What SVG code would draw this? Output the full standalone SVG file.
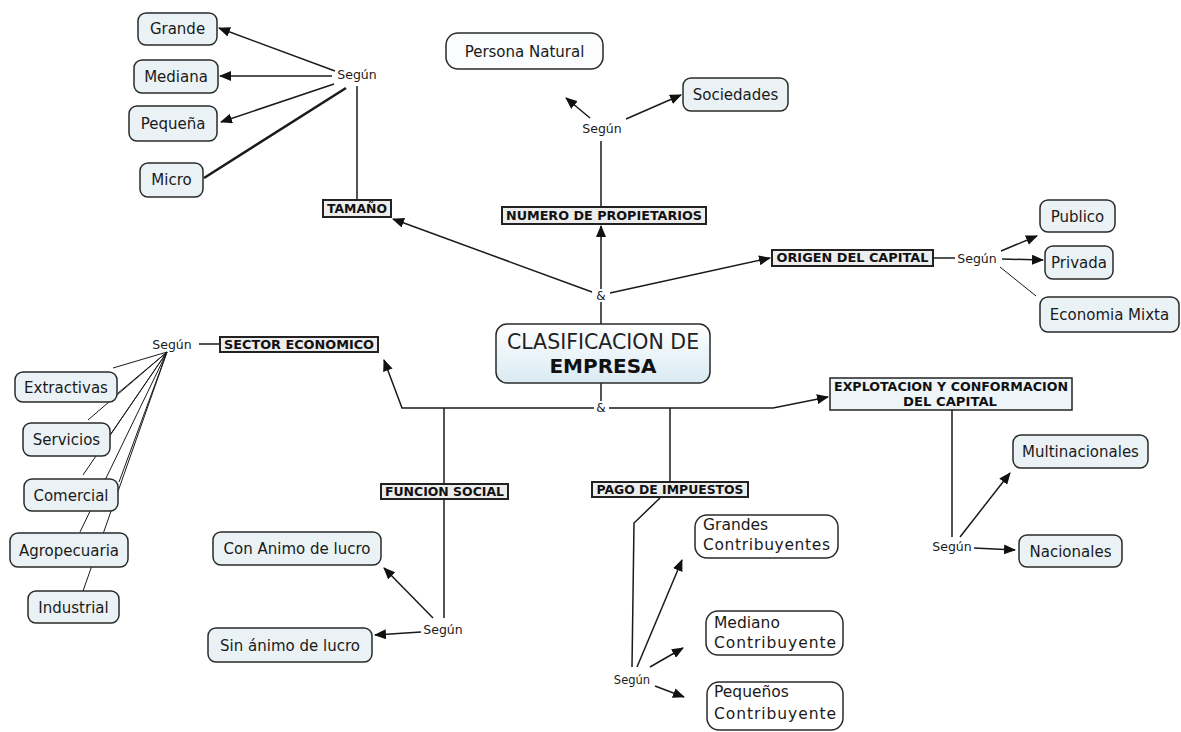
<svg xmlns="http://www.w3.org/2000/svg" width="1181" height="732" viewBox="0 0 1181 732">
  <defs>
    <marker id="arr" viewBox="0 0 12 10" refX="11" refY="5" markerWidth="12" markerHeight="10" markerUnits="userSpaceOnUse" orient="auto">
      <path d="M0,0 L12,5 L0,10 z" fill="#111"/>
    </marker>
    <linearGradient id="centerFill" x1="0" y1="0" x2="0" y2="1">
      <stop offset="0" stop-color="#ffffff"/>
      <stop offset="1" stop-color="#d9eaf3"/>
    </linearGradient>
    <style>
      .node rect { fill: #eaf2f6; stroke: #2a2a2a; stroke-width: 1.5; }
      .node text { font-family: "DejaVu Sans", Verdana, sans-serif; font-size: 15px; fill: #1a1a1a; text-anchor: middle; }
      .node text.left { text-anchor: start; font-size: 15.5px; }
      .label rect { fill: #ededed; stroke: #222; stroke-width: 2; }
      .label text { font-family: "DejaVu Sans", Verdana, sans-serif; font-size: 11.5px; font-weight: bold; fill: #111; text-anchor: middle; }
      .phrase { font-family: "DejaVu Sans", Verdana, sans-serif; font-size: 12.5px; fill: #1a1a1a; text-anchor: middle; }
      .conn path { fill: none; stroke: #1a1a1a; stroke-width: 1.5; }
      .conn path.arrow { marker-end: url(#arr); }
      .conn path.thin { stroke-width: 1; }
      .conn path.thick { stroke-width: 2.5; }
    </style>
  </defs>

  <rect width="1181" height="732" fill="#ffffff"/>

  <!-- connectors -->
  <g id="connectors" class="conn">
    <!-- Tamaño -->
    <path class="arrow" d="M335,71 L219,28"/>
    <path class="arrow" d="M332,76 L220,76"/>
    <path class="arrow" d="M334,84 L221,122"/>
    <path class="thick" d="M346,88 L204,178"/>
    <path d="M357,86 L357,200"/>
    <path class="arrow" d="M592,292 L393,219"/>
    <!-- Numero de propietarios -->
    <path class="arrow" d="M601,289 L601,226"/>
    <path d="M601,207 L601,141"/>
    <path class="arrow" d="M590,118 L566,98"/>
    <path class="arrow" d="M626,119 L681,95"/>
    <!-- Origen del capital -->
    <path class="arrow" d="M610,293 L770,258"/>
    <path d="M933,258 L955,258"/>
    <path class="arrow" d="M1001,251 L1037,236"/>
    <path class="arrow" d="M1002,259 L1043,260"/>
    <path class="thin" d="M1000,267 L1036,296"/>
    <!-- central stem -->
    <path d="M601,302 L601,324"/>
    <path d="M601,383 L601,401"/>
    <!-- lower branches -->
    <path class="arrow" d="M594,408 L402,408 L384,360"/>
    <path class="arrow" d="M609,408 L773,408 L828,397"/>
    <!-- Sector economico -->
    <path d="M220,344 L199,344"/>
    <path class="thin" d="M167,352 L113,368"/>
    <path class="thin" d="M167,352 L118,393"/>
    <path class="thin" d="M167,352 L88,420"/>
    <path class="thin" d="M167,352 L110,435"/>
    <path class="thin" d="M167,352 L83,475"/>
    <path class="thin" d="M167,352 L119,482"/>
    <path class="thin" d="M167,352 L80,532"/>
    <path class="thin" d="M167,352 L83,591"/>
    <!-- Funcion social -->
    <path d="M444,408 L444,484"/>
    <path d="M444,499 L444,618"/>
    <path class="arrow" d="M433,618 L384,568"/>
    <path class="arrow" d="M421,632 L375,635"/>
    <!-- Pago de impuestos -->
    <path d="M670,408 L670,482"/>
    <path d="M660,498 L634,523 L632,667"/>
    <path class="arrow" d="M637,667 L682,560"/>
    <path class="arrow" d="M650,667 L683,648"/>
    <path class="arrow" d="M655,686 L684,697"/>
    <!-- Explotacion y conformacion del capital -->
    <path d="M952,410 L952,537"/>
    <path class="arrow" d="M960,537 L1010,473"/>
    <path class="arrow" d="M974,548 L1015,550"/>
  </g>

  <!-- linking phrases -->
  <g id="phrases">
    <text class="phrase" x="357" y="79">Según</text>
    <text class="phrase" x="602" y="133">Según</text>
    <text class="phrase" x="977" y="263">Según</text>
    <text class="phrase" x="172" y="349">Según</text>
    <text class="phrase" x="443" y="634">Según</text>
    <text class="phrase" x="632" y="684" style="font-size:11.5px">Según</text>
    <text class="phrase" x="952" y="551">Según</text>
    <text class="phrase" x="601" y="300" style="font-size:12px">&amp;</text>
    <text class="phrase" x="601" y="412" style="font-size:12px">&amp;</text>
  </g>

  <!-- central concept -->
  <g id="clasificacion">
    <rect x="496" y="324" width="214" height="59" rx="11" fill="url(#centerFill)" stroke="#2a2a2a" stroke-width="1.5"/>
    <text x="603" y="349" font-family="DejaVu Sans, Verdana, sans-serif" font-size="20.5" fill="#222" text-anchor="middle">CLASIFICACION DE</text>
    <text x="603" y="373" font-family="DejaVu Sans, Verdana, sans-serif" font-size="20" font-weight="bold" fill="#111" text-anchor="middle">EMPRESA</text>
  </g>

  <!-- criteria labels -->
  <g id="tamano" class="label">
    <rect x="323" y="200" width="68" height="17"/>
    <text x="357" y="213" textLength="60" lengthAdjust="spacingAndGlyphs">TAMAÑO</text>
  </g>
  <g id="numero-propietarios" class="label">
    <rect x="502" y="207" width="204" height="17"/>
    <text x="604" y="220" textLength="196" lengthAdjust="spacingAndGlyphs">NUMERO DE PROPIETARIOS</text>
  </g>
  <g id="origen-capital" class="label">
    <rect x="772" y="250" width="161" height="16"/>
    <text x="852.5" y="262" textLength="152" lengthAdjust="spacingAndGlyphs">ORIGEN DEL CAPITAL</text>
  </g>
  <g id="sector-economico" class="label">
    <rect x="220" y="337" width="158" height="15"/>
    <text x="299" y="349" textLength="150" lengthAdjust="spacingAndGlyphs">SECTOR ECONOMICO</text>
  </g>
  <g id="funcion-social" class="label">
    <rect x="381" y="484" width="127" height="15"/>
    <text x="444.5" y="496" textLength="119" lengthAdjust="spacingAndGlyphs">FUNCION SOCIAL</text>
  </g>
  <g id="pago-impuestos" class="label">
    <rect x="592" y="482" width="156" height="15"/>
    <text x="670" y="494" textLength="147" lengthAdjust="spacingAndGlyphs">PAGO DE IMPUESTOS</text>
  </g>
  <g id="explotacion" class="label">
    <rect x="830" y="378" width="242" height="32" style="fill:#eef5f9;stroke-width:1.5"/>
    <text x="951" y="391" textLength="234" lengthAdjust="spacingAndGlyphs">EXPLOTACION Y CONFORMACION</text>
    <text x="950" y="406" textLength="94" lengthAdjust="spacingAndGlyphs">DEL CAPITAL</text>
  </g>

  <!-- Tamaño nodes -->
  <g id="grande" class="node"><rect x="138" y="13" width="79" height="32" rx="8"/><text x="177.5" y="34">Grande</text></g>
  <g id="mediana" class="node"><rect x="134" y="60" width="84" height="33" rx="8"/><text x="176" y="81.5">Mediana</text></g>
  <g id="pequena" class="node"><rect x="129" y="106" width="88" height="35" rx="8"/><text x="173" y="128.5">Pequeña</text></g>
  <g id="micro" class="node"><rect x="140" y="163" width="63" height="34" rx="8"/><text x="171.5" y="185">Micro</text></g>

  <!-- Numero de propietarios nodes -->
  <g id="persona-natural" class="node"><rect x="446" y="33" width="157" height="36" rx="12" style="fill:#fbfcfd"/><text x="524.5" y="56.5">Persona Natural</text></g>
  <g id="sociedades" class="node"><rect x="683" y="78" width="105" height="33" rx="8"/><text x="735.5" y="100">Sociedades</text></g>

  <!-- Origen del capital nodes -->
  <g id="publico" class="node"><rect x="1040" y="200" width="75" height="32" rx="8"/><text x="1077.5" y="221.5">Publico</text></g>
  <g id="privada" class="node"><rect x="1045" y="246" width="68" height="33" rx="8"/><text x="1079" y="268">Privada</text></g>
  <g id="economia-mixta" class="node"><rect x="1040" y="297" width="139" height="35" rx="8"/><text x="1109.5" y="320">Economia Mixta</text></g>

  <!-- Sector economico nodes -->
  <g id="extractivas" class="node"><rect x="15" y="372" width="102" height="30" rx="8"/><text x="66" y="392.5">Extractivas</text></g>
  <g id="servicios" class="node"><rect x="23" y="423" width="87" height="33" rx="8"/><text x="66.5" y="445">Servicios</text></g>
  <g id="comercial" class="node"><rect x="24" y="479" width="94" height="32" rx="8"/><text x="71" y="500.5">Comercial</text></g>
  <g id="agropecuaria" class="node"><rect x="10" y="533" width="118" height="34" rx="8"/><text x="69" y="555.5">Agropecuaria</text></g>
  <g id="industrial" class="node"><rect x="28" y="591" width="91" height="32" rx="8"/><text x="73.5" y="612.5">Industrial</text></g>

  <!-- Funcion social nodes -->
  <g id="con-animo" class="node"><rect x="213" y="532" width="168" height="33" rx="8"/><text x="297" y="554">Con Animo de lucro</text></g>
  <g id="sin-animo" class="node"><rect x="208" y="628" width="164" height="34" rx="8"/><text x="290" y="650.5">Sin ánimo de lucro</text></g>

  <!-- Pago de impuestos nodes -->
  <g id="grandes-contribuyentes" class="node">
    <rect x="695" y="515" width="143" height="43" rx="12" style="fill:#ffffff"/>
    <text class="left" x="703" y="530">Grandes</text>
    <text class="left" x="703" y="550" textLength="127" lengthAdjust="spacing">Contribuyentes</text>
  </g>
  <g id="mediano-contribuyente" class="node">
    <rect x="706" y="611" width="137" height="44" rx="12" style="fill:#ffffff"/>
    <text class="left" x="714" y="628">Mediano</text>
    <text class="left" x="714" y="648" textLength="122" lengthAdjust="spacing">Contribuyente</text>
  </g>
  <g id="pequenos-contribuyente" class="node">
    <rect x="707" y="682" width="136" height="48" rx="12" style="fill:#ffffff"/>
    <text class="left" x="714" y="697">Pequeños</text>
    <text class="left" x="714" y="719" textLength="122" lengthAdjust="spacing">Contribuyente</text>
  </g>

  <!-- Explotacion nodes -->
  <g id="multinacionales" class="node"><rect x="1013" y="435" width="135" height="33" rx="8"/><text x="1080.5" y="457">Multinacionales</text></g>
  <g id="nacionales" class="node"><rect x="1019" y="535" width="103" height="32" rx="8"/><text x="1070.5" y="556.5">Nacionales</text></g>
</svg>
